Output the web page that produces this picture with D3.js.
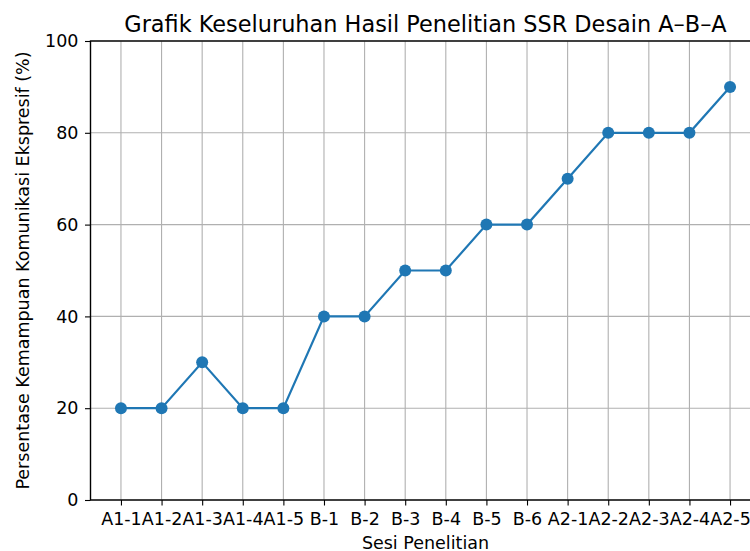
<!DOCTYPE html>
<html>
<head>
<meta charset="utf-8">
<script src="https://cdn.jsdelivr.net/npm/d3@7"></script>
<style>
  body { margin: 0; background: #fff; }
  text { font-family: "DejaVu Sans", sans-serif; fill: #000; }
</style>
</head>
<body>
<script>
const w = 750;
const h = 551;

// data
const sessions = ["A1-1", "A1-2", "A1-3", "A1-4", "A1-5", "B-1", "B-2", "B-3", "B-4", "B-5", "B-6",
  "A2-1", "A2-2", "A2-3", "A2-4", "A2-5"];
const percent = [20, 20, 30, 20, 20, 40, 40, 50, 50, 60, 60, 70, 80, 80, 80, 90];
const yTicks = [0, 20, 40, 60, 80, 100];

const plotLeft = 90.5, plotRight = 760.5, plotTop = 41, plotBottom = 500;

const x = d3.scaleLinear()
  .domain([-0.75, sessions.length - 1 + 0.75])
  .range([plotLeft, plotRight]);

const y = d3.scaleLinear()
  .domain([0, 100])
  .range([plotBottom, plotTop]);

const svg = d3.select("body")
  .append("svg")
  .attr("width", w)
  .attr("height", h);

// grid
const grid = svg.append("g");
grid.selectAll(".gx")
  .data(sessions)
  .enter()
  .append("line")
  .attr("x1", (d, i) => x(i))
  .attr("x2", (d, i) => x(i))
  .attr("y1", plotTop)
  .attr("y2", plotBottom)
  .attr("stroke", "#b0b0b0")
  .attr("stroke-width", 1.1);

grid.selectAll(".gy")
  .data(yTicks)
  .enter()
  .append("line")
  .attr("x1", plotLeft)
  .attr("x2", plotRight)
  .attr("y1", d => y(d))
  .attr("y2", d => y(d))
  .attr("stroke", "#b0b0b0")
  .attr("stroke-width", 1.1);

// axes
const xAxis = d3.axisBottom(x)
  .tickValues(d3.range(sessions.length))
  .tickFormat(i => sessions[i])
  .tickSize(5.5)
  .tickSizeOuter(0)
  .tickPadding(7.5);

const yAxis = d3.axisLeft(y)
  .tickValues(yTicks)
  .tickSize(5.5)
  .tickSizeOuter(0)
  .tickPadding(6.5);

const gx = svg.append("g")
  .attr("transform", "translate(0," + plotBottom + ")")
  .call(xAxis);

const gy = svg.append("g")
  .attr("transform", "translate(" + plotLeft + ",0)")
  .call(yAxis);

[gx, gy].forEach(g => {
  g.select(".domain").remove();
  g.selectAll(".tick line").attr("stroke", "#000").attr("stroke-width", 1.1);
  g.selectAll(".tick text")
    .style("font-family", "DejaVu Sans")
    .style("font-size", "17.5px")
    .attr("fill", "#000");
});

// spines
svg.append("rect")
  .attr("x", plotLeft)
  .attr("y", plotTop)
  .attr("width", plotRight - plotLeft)
  .attr("height", plotBottom - plotTop)
  .attr("fill", "none")
  .attr("stroke", "#000")
  .attr("stroke-width", 1.4);

// line + markers
const line = d3.line()
  .x((d, i) => x(i))
  .y(d => y(d));

svg.append("path")
  .datum(percent)
  .attr("d", line)
  .attr("fill", "none")
  .attr("stroke", "#1f77b4")
  .attr("stroke-width", 2.2);

svg.selectAll(".dot")
  .data(percent)
  .enter()
  .append("circle")
  .attr("cx", (d, i) => x(i))
  .attr("cy", d => y(d))
  .attr("r", 6)
  .attr("fill", "#1f77b4");

// title and labels
svg.append("text")
  .attr("x", (plotLeft + plotRight) / 2)
  .attr("y", 32)
  .attr("text-anchor", "middle")
  .style("font-size", "22.4px")
  .text("Grafik Keseluruhan Hasil Penelitian SSR Desain A\u2013B\u2013A");

svg.append("text")
  .attr("x", (plotLeft + plotRight) / 2)
  .attr("y", 549)
  .attr("text-anchor", "middle")
  .style("font-size", "17.5px")
  .text("Sesi Penelitian");

svg.append("text")
  .attr("transform", "translate(29," + ((plotTop + plotBottom) / 2) + ") rotate(-90)")
  .attr("text-anchor", "middle")
  .style("font-size", "17.5px")
  .text("Persentase Kemampuan Komunikasi Ekspresif (%)");
</script>
</body>
</html>
